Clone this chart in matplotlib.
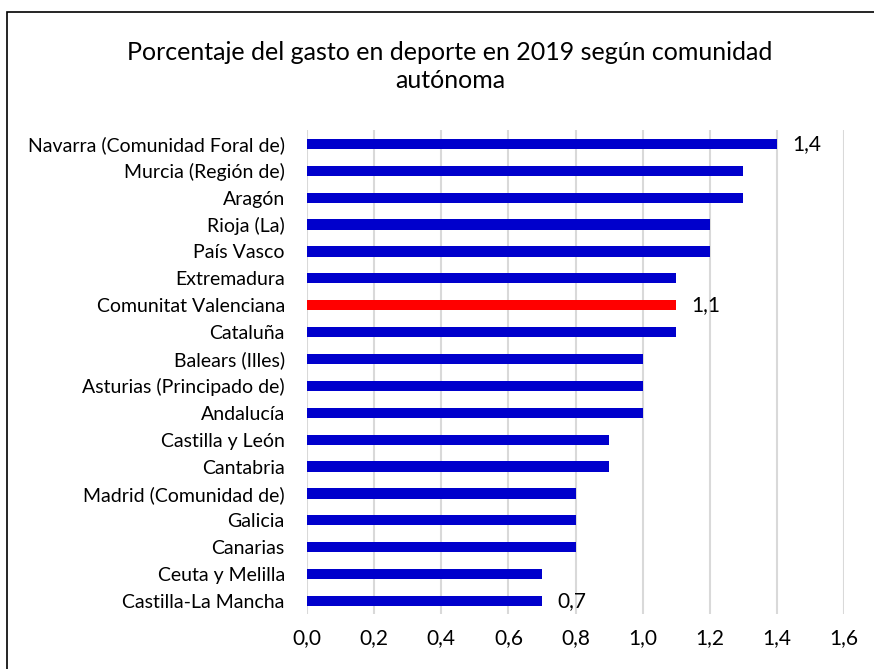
import matplotlib.pyplot as plt
from matplotlib.patches import Rectangle

plt.rcParams['font.family'] = ['Lato', 'DejaVu Sans']

# datos
regiones = ["Navarra (Comunidad Foral de)", "Murcia (Región de)", "Aragón", "Rioja (La)",
            "País Vasco", "Extremadura", "Comunitat Valenciana", "Cataluña",
            "Balears (Illes)", "Asturias (Principado de)", "Andalucía", "Castilla y León",
            "Cantabria", "Madrid (Comunidad de)", "Galicia", "Canarias",
            "Ceuta y Melilla", "Castilla-La Mancha"]
gasto = [1.4, 1.3, 1.3, 1.2, 1.2, 1.1, 1.1, 1.1, 1.0, 1.0, 1.0, 0.9, 0.9, 0.8, 0.8, 0.8, 0.7, 0.7]
etiquetas = {"Navarra (Comunidad Foral de)": "1,4",
             "Comunitat Valenciana": "1,1",
             "Castilla-La Mancha": "0,7"}
ticks = [0.0, 0.2, 0.4, 0.6, 0.8, 1.0, 1.2, 1.4, 1.6]

fig = plt.figure(figsize=(8.74, 6.69), dpi=100)
ax = fig.add_axes([0.3513, 0.0815, 0.6144, 0.7235])

colores = ["#FF0000" if r == "Comunitat Valenciana" else "#0000CC" for r in regiones]
y = list(range(len(regiones)))
ax.barh(y, gasto, height=0.38, color=colores, zorder=3)

for i, (r, v) in enumerate(zip(regiones, gasto)):
    if r in etiquetas:
        ax.text(v + 0.045, i, etiquetas[r], va="center", ha="left", fontsize=15)

ax.set_ylim(len(regiones) - 0.5, -0.5)
ax.set_xlim(0, 1.6)
ax.set_yticks(y)
ax.set_yticklabels(regiones, fontsize=14)
ax.set_xticks(ticks)
ax.set_xticklabels([f"{t:.1f}".replace(".", ",") for t in ticks], fontsize=15)
ax.tick_params(length=0, axis="both")
ax.tick_params(axis="y", pad=16)
ax.tick_params(axis="x", pad=10)
ax.grid(axis="x", color="#D9D9D9", linewidth=1.5, zorder=0)
for s in ax.spines.values():
    s.set_visible(False)

fig.text(0.515, 0.901, "Porcentaje del gasto en deporte en 2019 según comunidad\nautónoma",
         ha="center", va="center", fontsize=18, linespacing=1.25)

fig.patches.append(Rectangle((0.008, -0.05), 1.05, 1.032, transform=fig.transFigure,
                             fill=False, edgecolor="black", linewidth=1.2))

plt.savefig("out.png", dpi=100)
